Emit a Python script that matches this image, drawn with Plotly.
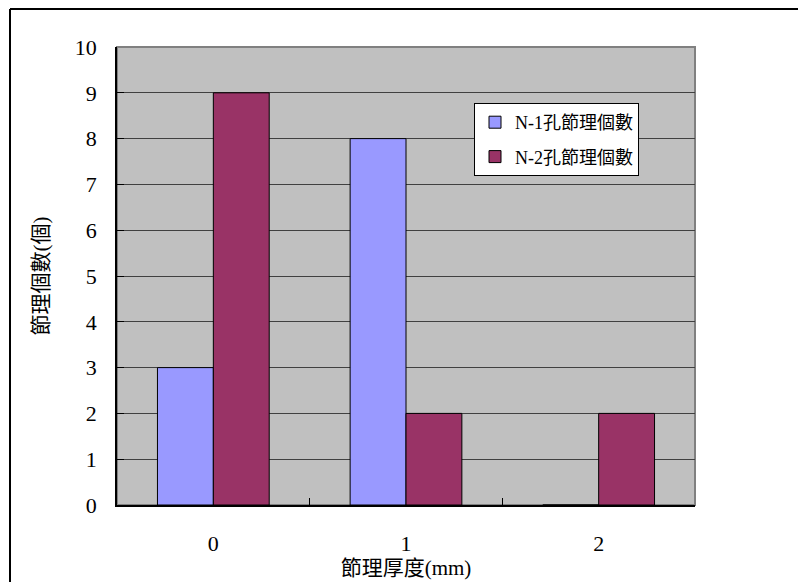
import plotly.graph_objects as go

# joint thickness categories (mm) and joint counts for the two boreholes
categories = ["0", "1", "2"]
n1_counts = [3, 8, 0]
n2_counts = [9, 2, 2]
series_names = ["N-1孔節理個數", "N-2孔節理個數"]
y_ticks = list(range(0, 11))

W, H = 798, 582
L, R, T, B = 117, 695, 47, 505
pw, ph = R - L, B - T

def px_x(v):
    return (v - L) / pw

def px_y(v):
    return (B - v) / ph

serif = "Liberation Serif, Times New Roman, Noto Sans CJK TC, serif"

fig = go.Figure()
fig.add_trace(go.Bar(
    x=categories, y=n1_counts, name=series_names[0],
    marker=dict(color="#9999FF", line=dict(color="black", width=1)),
    legendgroup="a",
))
fig.add_trace(go.Bar(
    x=categories, y=n2_counts, name=series_names[1],
    marker=dict(color="#993366", line=dict(color="black", width=1)),
    legendgroup="b",
))

fig.update_layout(
    width=W, height=H,
    margin=dict(l=L, r=W - R, t=T, b=H - B, pad=0),
    paper_bgcolor="white",
    plot_bgcolor="#C0C0C0",
    barmode="group",
    bargap=0.42,
    bargroupgap=0,
    font=dict(family=serif, color="black"),
    legend=dict(
        x=px_x(474), y=px_y(103), xanchor="left", yanchor="top",
        bgcolor="white", bordercolor="black", borderwidth=1,
        font=dict(size=18, family=serif),
        traceorder="grouped", tracegroupgap=8,
    ),
    shapes=[
        # plot area frame (top/right edges)
        dict(type="rect", xref="paper", yref="paper", x0=0, x1=1, y0=0, y1=1,
             line=dict(color="#808080", width=2), layer="below"),
        # outer chart border
        dict(type="line", xref="paper", yref="paper",
             x0=px_x(10), x1=px_x(10), y0=px_y(9), y1=px_y(620),
             line=dict(color="black", width=2)),
        dict(type="line", xref="paper", yref="paper",
             x0=px_x(10), x1=px_x(840), y0=px_y(9), y1=px_y(9),
             line=dict(color="black", width=2)),
    ],
)

fig.update_xaxes(
    type="category",
    tickson="boundaries",
    ticks="inside", ticklen=7, tickcolor="black", tickwidth=1,
    showline=True, linecolor="black", linewidth=1.5,
    showgrid=False,
    tickfont=dict(size=22, family=serif),
    ticklabelstandoff=18,
    title=dict(text="節理厚度(mm)", font=dict(size=21, family=serif), standoff=3),
    automargin=False,
)

fig.update_yaxes(
    range=[0, 10],
    tickvals=y_ticks,
    ticks="inside", ticklen=7, tickcolor="black", tickwidth=1,
    showline=True, linecolor="black", linewidth=1.5,
    showgrid=True, gridcolor="#404040", gridwidth=1,
    zeroline=False,
    tickfont=dict(size=22, family=serif),
    ticklabelstandoff=14,
    title=dict(text="節理個數(個)", font=dict(size=21, family=serif), standoff=20),
    automargin=False,
)

fig.write_html("out.html")
